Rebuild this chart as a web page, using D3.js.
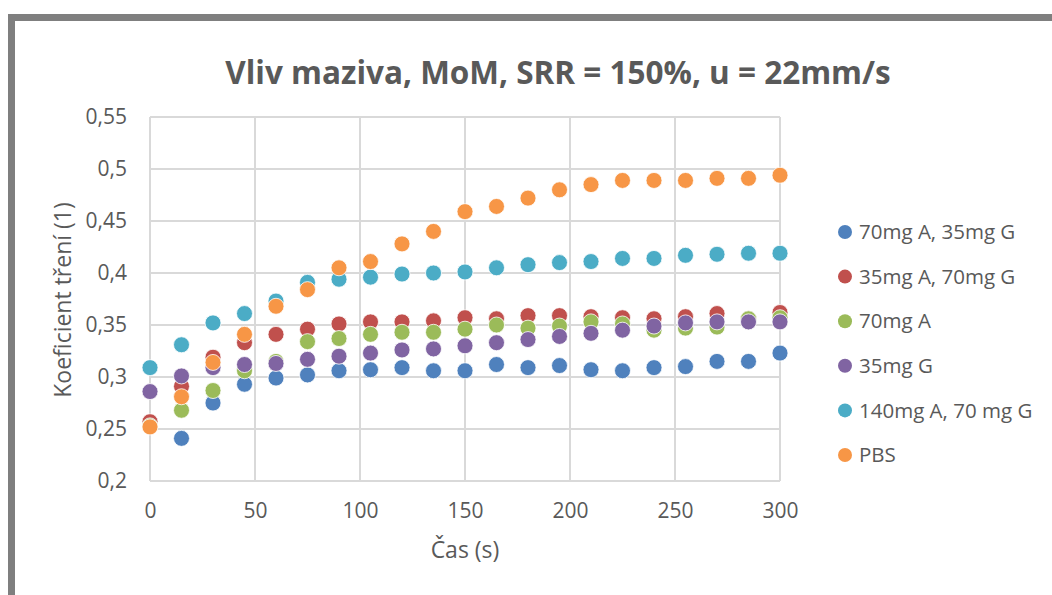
<!DOCTYPE html>
<html>
<head>
<meta charset="utf-8">
<script src="https://cdn.jsdelivr.net/npm/d3@7"></script>
<style>
  body { margin: 0; background: #fff; }
  svg text { font-family: "Open Sans", "Noto Sans", sans-serif; fill: #595959; }
</style>
</head>
<body>
<div id="chart"></div>
<script>
// time points (s)
var times = [0, 15, 30, 45, 60, 75, 90, 105, 120, 135, 150, 165, 180, 195, 210, 225, 240, 255, 270, 285, 300];

// friction coefficient per lubricant
var s70A35G = [0.254, 0.241, 0.275, 0.293, 0.299, 0.302, 0.306, 0.307, 0.309, 0.306, 0.306, 0.312, 0.309, 0.311, 0.307, 0.306, 0.309, 0.310, 0.315, 0.315, 0.323];
var s35A70G = [0.257, 0.291, 0.319, 0.333, 0.341, 0.346, 0.351, 0.353, 0.353, 0.354, 0.357, 0.356, 0.359, 0.359, 0.358, 0.357, 0.356, 0.358, 0.361, 0.356, 0.362];
var s70A = [0.253, 0.268, 0.287, 0.306, 0.315, 0.334, 0.337, 0.341, 0.343, 0.343, 0.346, 0.350, 0.347, 0.349, 0.353, 0.351, 0.345, 0.347, 0.348, 0.356, 0.357];
var s35G = [0.286, 0.301, 0.309, 0.312, 0.313, 0.317, 0.320, 0.323, 0.326, 0.327, 0.330, 0.333, 0.336, 0.339, 0.342, 0.345, 0.349, 0.352, 0.353, 0.353, 0.353];
var s140A70G = [0.309, 0.331, 0.352, 0.361, 0.373, 0.391, 0.394, 0.396, 0.399, 0.400, 0.401, 0.405, 0.408, 0.410, 0.411, 0.414, 0.414, 0.417, 0.418, 0.419, 0.419];
var sPBS = [0.252, 0.281, 0.314, 0.341, 0.368, 0.384, 0.405, 0.411, 0.428, 0.440, 0.459, 0.464, 0.472, 0.480, 0.485, 0.489, 0.489, 0.489, 0.491, 0.491, 0.494];

var seriesNames = ["70mg A, 35mg G", "35mg A, 70mg G", "70mg A", "35mg G", "140mg A, 70 mg G", "PBS"];
var seriesValues = [s70A35G, s35A70G, s70A, s35G, s140A70G, sPBS];
var seriesColors = ["#4f81bd", "#c0504d", "#9bbb59", "#8064a2", "#4bacc6", "#f79646"];

var xTicks = [0, 50, 100, 150, 200, 250, 300];
var yTicks = [0.2, 0.25, 0.3, 0.35, 0.4, 0.45, 0.5, 0.55];

var width = 1052, height = 595;
var plot = { left: 150, right: 780, top: 117, bottom: 481 };

var svg = d3.select("#chart").append("svg")
    .attr("width", width)
    .attr("height", height);

// chart frame (only top and left edges visible in the crop)
svg.append("rect")
    .attr("x", 11.5).attr("y", 17.5)
    .attr("width", width + 20).attr("height", height + 20)
    .attr("fill", "#fff")
    .attr("stroke", "#7f7f7f")
    .attr("stroke-width", 7);

var x = d3.scaleLinear().domain([0, 300]).range([plot.left, plot.right]);
var y = d3.scaleLinear().domain([0.2, 0.55]).range([plot.bottom, plot.top]);

var fmt = function(d) { return d3.format("~g")(+d.toFixed(2)).replace(".", ","); };

// grid
svg.append("g").selectAll("line").data(xTicks).enter().append("line")
    .attr("x1", function(d) { return x(d); }).attr("x2", function(d) { return x(d); })
    .attr("y1", plot.top).attr("y2", plot.bottom)
    .attr("stroke", "#d9d9d9").attr("stroke-width", 2);
svg.append("g").selectAll("line").data(yTicks).enter().append("line")
    .attr("x1", plot.left).attr("x2", plot.right)
    .attr("y1", function(d) { return y(d); }).attr("y2", function(d) { return y(d); })
    .attr("stroke", "#d9d9d9").attr("stroke-width", 2);

// axes (labels only, lines drawn by grid)
var xAxis = svg.append("g")
    .attr("transform", "translate(0," + plot.bottom + ")")
    .call(d3.axisBottom(x).tickValues(xTicks).tickSize(0).tickPadding(22).tickFormat(d3.format("d")));
var yAxis = svg.append("g")
    .attr("transform", "translate(" + plot.left + ",0)")
    .call(d3.axisLeft(y).tickValues(yTicks).tickSize(0).tickPadding(23).tickFormat(fmt));
[xAxis, yAxis].forEach(function(a) {
    a.select(".domain").remove();
    a.selectAll("text").style("font-size", "21px").attr("fill", "#595959");
});

// points
seriesValues.forEach(function(vals, i) {
    svg.append("g").selectAll("circle")
        .data(vals.map(function(v, j) { return [times[j], v]; }))
        .enter().append("circle")
        .attr("cx", function(d) { return x(d[0]); })
        .attr("cy", function(d) { return y(d[1]); })
        .attr("r", 8)
        .attr("fill", seriesColors[i])
        .attr("stroke", "#fff")
        .attr("stroke-width", 0.8);
});

// title
svg.append("text")
    .attr("x", 558).attr("y", 84)
    .attr("text-anchor", "middle")
    .style("font-size", "31.5px").style("font-weight", "bold")
    .text("Vliv maziva, MoM, SRR = 150%, u = 22mm/s");

// axis titles
svg.append("text")
    .attr("x", 465).attr("y", 558)
    .attr("text-anchor", "middle")
    .style("font-size", "23px")
    .text("Čas (s)");
svg.append("text")
    .attr("transform", "translate(71,300) rotate(-90)")
    .attr("text-anchor", "middle")
    .style("font-size", "23px")
    .text("Koeficient tření (1)");

// legend
var legend = svg.append("g").selectAll("g").data(seriesNames).enter().append("g")
    .attr("transform", function(d, i) { return "translate(845," + (232 + i * 44.6) + ")"; });
legend.append("circle").attr("r", 7).attr("fill", function(d, i) { return seriesColors[i]; });
legend.append("text")
    .attr("x", 14).attr("dy", "0.35em")
    .style("font-size", "20.5px")
    .text(function(d) { return d; });
</script>
</body>
</html>
